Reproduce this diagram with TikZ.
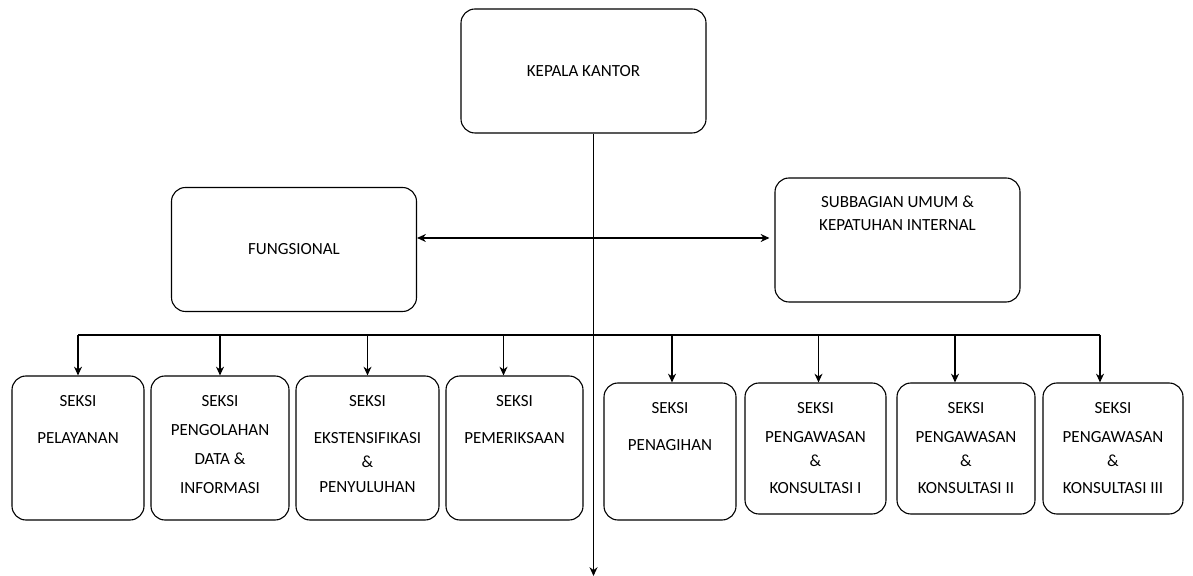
\documentclass[tikz,border=0pt]{standalone}
\usepackage{fontspec}
\setmainfont{Carlito}
\usetikzlibrary{calc, arrows.meta}
% text block pinned to the top of a box: width, height, top gap, lines
\newcommand{\toptext}[4]{\parbox[c][#2][t]{#1}{\centering\vspace*{#3}#4}}

\begin{document}
\begin{tikzpicture}[x=0.5pt, y=-0.5pt, >={Stealth[length=4.4pt, width=4pt]}, line width=0.55pt]
        \tikzstyle{unit}=[draw, rounded corners=7pt, inner sep=0pt, align=center, font=\fontsize{8.5}{10.2}\selectfont]
        \tikzstyle{head}=[unit, minimum width=122.5pt, minimum height=62pt]

        \useasboundingbox (0,0) rectangle (1193,576);

        \node[head](kepala) at (583.5, 71){KEPALA KANTOR};
        \node[head](fungsional) at (294, 249.5){FUNGSIONAL};
        \node[unit](umum) at (897.5, 240){\toptext{122.5pt}{62pt}{9pt}{SUBBAGIAN UMUM \&\\[1.4pt] KEPATUHAN INTERNAL}};

        \node[unit](s1) at (78, 448){\toptext{66pt}{72pt}{9.5pt}{SEKSI\\[8.4pt] PELAYANAN}};
        \node[unit](s2) at (220, 448){\toptext{69pt}{72pt}{9.5pt}{SEKSI\\[4.4pt] PENGOLAHAN\\[4.4pt] DATA \&\\[4.4pt] INFORMASI}};
        \node[unit](s3) at (367.5, 448){\toptext{71.5pt}{72pt}{9.5pt}{SEKSI\\[8.4pt] EKSTENSIFIKASI\\[2pt] \&\\[2pt] PENYULUHAN}};
        \node[unit](s4) at (514.5, 448){\toptext{68.5pt}{72pt}{9.5pt}{SEKSI\\[8.4pt] PEMERIKSAAN}};
        \node[unit](s5) at (670, 451.5){\toptext{66pt}{68.5pt}{9.5pt}{SEKSI\\[8.4pt] PENAGIHAN}};
        \node[unit](s6) at (815.5, 448.5){\toptext{70.5pt}{65.5pt}{9.5pt}{SEKSI\\[4.4pt] PENGAWASAN\\[2pt] \&\\[3.4pt] KONSULTASI I}};
        \node[unit](s7) at (966, 448.5){\toptext{69pt}{65.5pt}{9.5pt}{SEKSI\\[4.4pt] PENGAWASAN\\[2pt] \&\\[3.4pt] KONSULTASI II}};
        \node[unit](s8) at (1113, 448.5){\toptext{70pt}{65.5pt}{9.5pt}{SEKSI\\[4.4pt] PENGAWASAN\\[2pt] \&\\[3.4pt] KONSULTASI III}};

        \coordinate (fork) at (593.5, 238);
        \coordinate (bus) at (593.5, 335);
        \coordinate (foot) at (593.5, 576);

        \draw[->] ([xshift=5pt]kepala.south) -- (foot);
        \draw[<->] (fungsional.east |- fork) -- ([xshift=-2.5pt]umum.west |- fork);
        \draw (s1.north |- bus) -- ([xshift=-6.5pt]s8.north |- bus);

        \foreach \i/\dx in {1/0, 2/0, 3/0, 4/-5.5, 5/1, 6/1.5, 7/-5.5, 8/-6.5}
            \draw[->] ([xshift=\dx pt]s\i.north |- bus) -- ([xshift=\dx pt]s\i.north);

        \end{tikzpicture}
\end{document}
